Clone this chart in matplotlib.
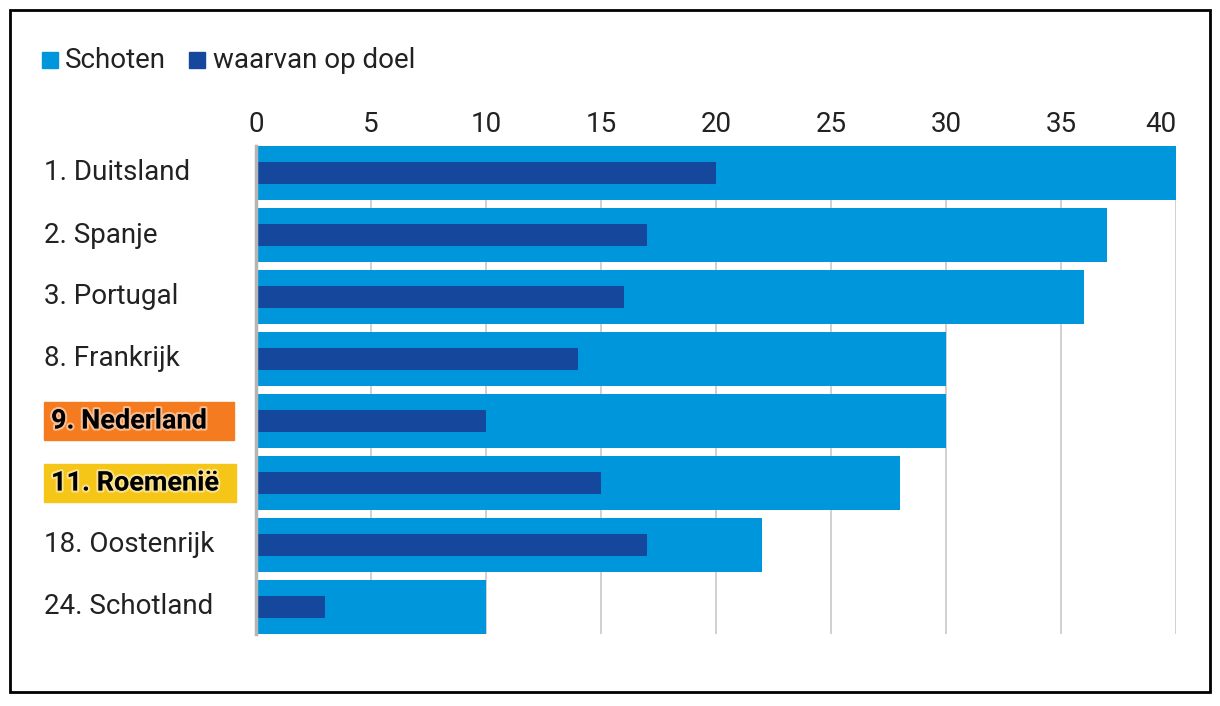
import matplotlib.pyplot as plt
import matplotlib.patheffects as pe
from matplotlib.patches import Rectangle

# data
landen = ['1. Duitsland', '2. Spanje', '3. Portugal', '8. Frankrijk',
          '9. Nederland', '11. Roemenië', '18. Oostenrijk', '24. Schotland']
schoten = [40, 37, 36, 30, 30, 28, 22, 10]
op_doel = [20, 17, 16, 14, 10, 15, 17, 3]
highlight = {'9. Nederland': '#F47B20', '11. Roemenië': '#F5C518'}

light = '#0096DB'
dark = '#15489C'
fs = 20

plt.rcParams['font.family'] = ['Roboto', 'DejaVu Sans']

fig = plt.figure(figsize=(12.2, 7.06), dpi=100)
ax = fig.add_axes([256 / 1220, 1 - 634 / 706, 920 / 1220, 488 / 706])

y = list(range(len(landen)))
ax.barh(y, schoten, height=0.87, color=light, zorder=2)
ax.barh(y, op_doel, height=0.355, color=dark, zorder=3)

ax.set_xlim(0, 40)
ax.set_ylim(len(landen) - 0.565, -0.435)
ax.set_xticks(range(0, 41, 5))
ax.xaxis.tick_top()
ax.tick_params(axis='x', length=0, labelsize=fs, pad=6, labelcolor='#222222')
ax.get_xticklabels()[-1].set_horizontalalignment('right')
ax.tick_params(axis='y', length=0)
ax.set_yticks([])
ax.grid(axis='x', color='#c8c8c8', linewidth=1.2, zorder=0)
for s in ['top', 'right', 'bottom']:
    ax.spines[s].set_visible(False)
ax.spines['left'].set_color('#b5b5b5')
ax.spines['left'].set_linewidth(2.5)
ax.spines['left'].set_zorder(4)

# category labels
for i, naam in enumerate(landen):
    ypix = 1 - (173 + i * 62) / 706
    if naam in highlight:
        w = 190 if naam.startswith('9') else 192
        fig.patches.append(Rectangle((44 / 1220, ypix - 19 / 706), w / 1220, 38 / 706,
                                     transform=fig.transFigure, color=highlight[naam]))
        fig.text(51 / 1220, ypix, naam, fontsize=19.5, fontweight='bold', va='center',
                 ha='left', color='black',
                 path_effects=[pe.withStroke(linewidth=3, foreground='#ffffff80')])
    else:
        fig.text(44 / 1220, ypix, naam, fontsize=fs, va='center', ha='left', color='#222222')

# legend
fig.patches.append(Rectangle((42 / 1220, 1 - 68 / 706), 16 / 1220, 16 / 706,
                             transform=fig.transFigure, color=light))
fig.text(65 / 1220, 1 - 60 / 706, 'Schoten', fontsize=fs, va='center', color='#222222')
fig.patches.append(Rectangle((189 / 1220, 1 - 68 / 706), 16 / 1220, 16 / 706,
                             transform=fig.transFigure, color=dark))
fig.text(213 / 1220, 1 - 60 / 706, 'waarvan op doel', fontsize=fs, va='center', color='#222222')

# frame
fig.patches.append(Rectangle((10 / 1220, 1 - 692 / 706), 1200 / 1220, 682 / 706,
                             transform=fig.transFigure, fill=False, edgecolor='black',
                             linewidth=2))

fig.savefig('out.png', dpi=100)
